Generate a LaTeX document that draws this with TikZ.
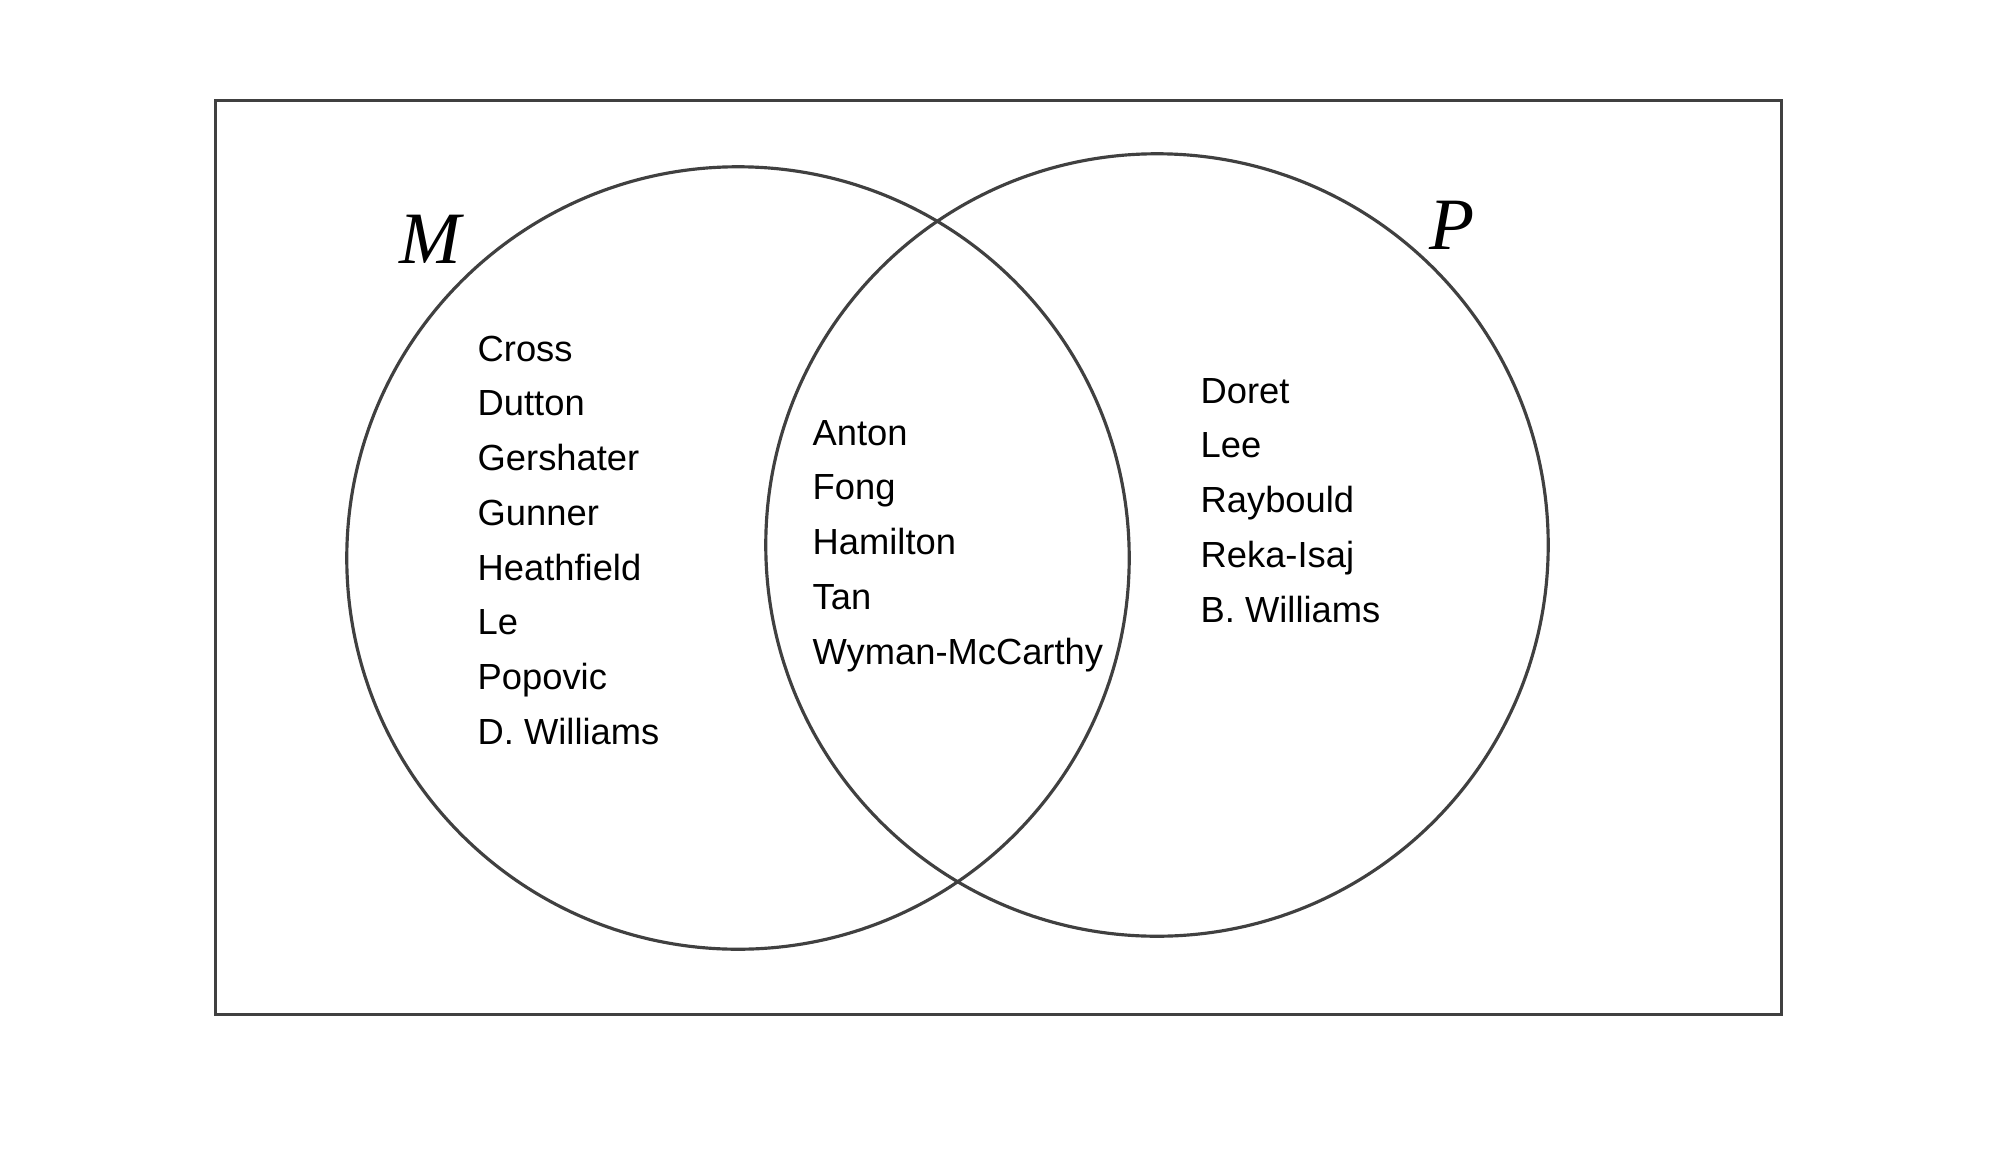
\documentclass[tikz,border=0pt]{standalone}
\usepackage{fontspec}
\setmainfont{Liberation Sans}
\newfontfamily\setfont{Liberation Serif}
\usepackage{tikz}
\definecolor{vennline}{HTML}{404040}

\begin{document}
\begin{tikzpicture}[x=0.01cm,y=-0.01cm,
	member/.style={anchor=base west,inner sep=0pt,font=\fontsize{10.33pt}{12pt}\selectfont},
	setlabel/.style={anchor=base west,inner sep=0pt,font=\fontsize{21pt}{24pt}\selectfont\setfont\itshape},
	outline/.style={draw=vennline,line width=0.9pt}]
	\useasboundingbox (0,0) rectangle (1999,1154);
	\node[outline,minimum width=15.65cm,minimum height=9.13cm] at (998.5,557.5) (U) {};
	\node[outline,circle,minimum size=7.82cm] at (738,558) (SetM) {};
	\node[outline,circle,minimum size=7.82cm] at (1157,545) (SetP) {};
	\node[setlabel] at (399,263) (LM) {M};
	\node[setlabel] at (1429,249) (LP) {P};
	% only M
	\node[member] at (477,361) (M1) {Cross};
	\node[member] at (477,415.75) (M2) {Dutton};
	\node[member] at (477,470.5) (M3) {Gershater};
	\node[member] at (477,525.25) (M4) {Gunner};
	\node[member] at (477,580) (M5) {Heathfield};
	\node[member] at (477,634.75) (M6) {Le};
	\node[member] at (477,689.5) (M7) {Popovic};
	\node[member] at (477,744.25) (M8) {D. Williams};
	% both
	\node[member] at (812,445) (B1) {Anton};
	\node[member] at (812,499.75) (B2) {Fong};
	\node[member] at (812,554.5) (B3) {Hamilton};
	\node[member] at (812,609.25) (B4) {Tan};
	\node[member] at (812,664) (B5) {Wyman-McCarthy};
	% only P
	\node[member] at (1200,403) (P1) {Doret};
	\node[member] at (1200,457.75) (P2) {Lee};
	\node[member] at (1200,512.5) (P3) {Raybould};
	\node[member] at (1200,567.25) (P4) {Reka-Isaj};
	\node[member] at (1200,622) (P5) {B. Williams};
\end{tikzpicture}
\end{document}
